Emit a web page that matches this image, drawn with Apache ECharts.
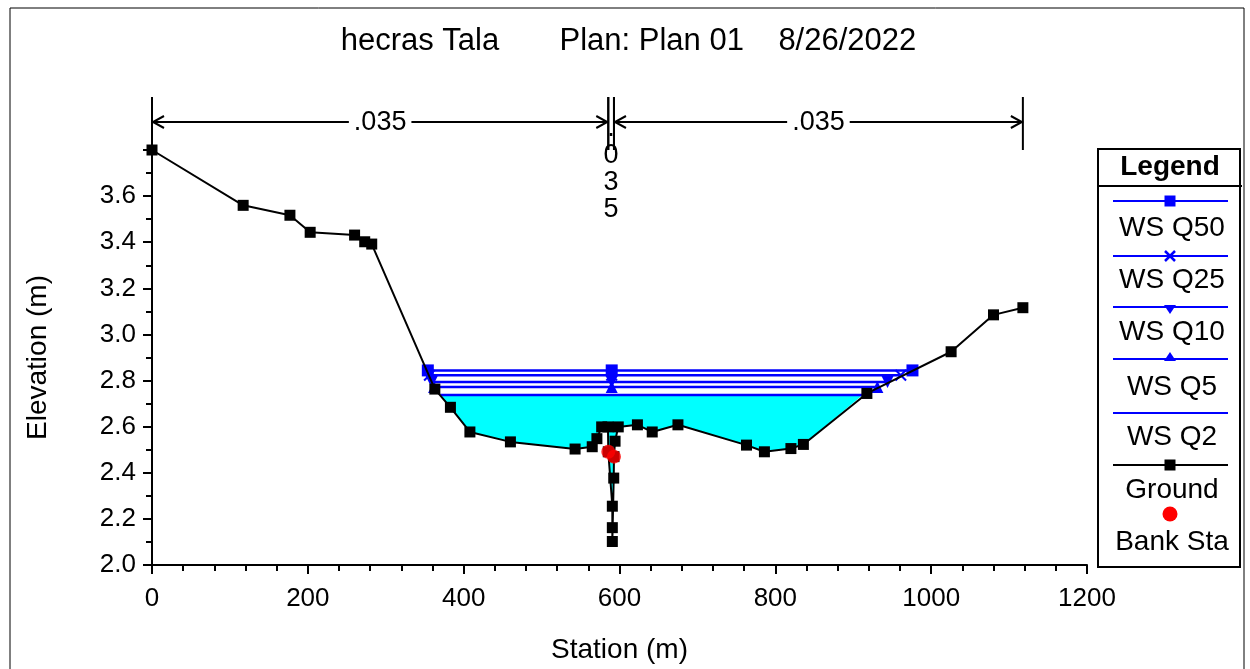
<!DOCTYPE html>
<html><head><meta charset="utf-8">
<script src="https://cdn.jsdelivr.net/npm/echarts@6/dist/echarts.min.js"></script>
<style>html,body{margin:0;padding:0;background:#fff}#c{width:1250px;height:669px}</style>
</head><body><div id="c"></div>
<script>
// ---------------- data ----------------
const titleText = 'hecras Tala       Plan: Plan 01    8/26/2022';
const xName = 'Station (m)';
const yName = 'Elevation (m)';
const xMin = 0, xMax = 1200, xStep = 200;
const yMin = 2.0, yMax = 3.8, yStep = 0.2;

const groundSta  = [0, 117, 177, 203, 260, 273, 282, 363, 383, 408, 460, 543, 565, 571, 577.1, 585.2, 585.6, 590.8, 590.8, 590.8, 592.6, 592.9, 594.3, 598.4, 623, 642, 675, 763, 786, 820, 836, 917.5, 1025.6, 1080, 1117.7];
const groundElev = [3.80, 3.56, 3.517, 3.443, 3.431, 3.402, 3.392, 2.763, 2.684, 2.577, 2.534, 2.503, 2.513, 2.548, 2.599, 2.599, 2.491, 2.255, 2.162, 2.102, 2.377, 2.470, 2.537, 2.599, 2.608, 2.577, 2.608, 2.520, 2.491, 2.505, 2.523, 2.744, 2.925, 3.085, 3.116];

const bankSta  = [585.6, 592.9];
const bankElev = [2.491, 2.470];

const wsNames  = ['WS Q50', 'WS Q25', 'WS Q10', 'WS Q5', 'WS Q2'];
const wsElev   = [2.844, 2.823, 2.794, 2.772, 2.737];
const wsLeft   = [354, 356, 359, 362, 370];
const wsCenter = [590, 590, 590, 590, 590];
const wsRight  = [976, 961, 944, 931, 912];

const nStations = [0, 585.6, 592.9, 1117.7];
const nValues   = ['.035', '.035', '.035'];

// ---------------- styles ----------------
const FONT = '"Liberation Sans", Arial, sans-serif';
const BLUE = '#0000FF';
const SYM_X = 'path://M0,1.2L1.2,0L5,3.8L8.8,0L10,1.2L6.2,5L10,8.8L8.8,10L5,6.2L1.2,10L0,8.8L3.8,5Z';
const SYM_TDOWN = 'path://M0,0L10,0L5,9Z';
const wsSymbols = ['rect', SYM_X, SYM_TDOWN, 'triangle', 'none'];

const chart = echarts.init(document.getElementById('c'), null, {renderer: 'canvas'});

const wsSeries = wsNames.map((n, i) => ({
  name: n, type: 'line', z: 3,
  data: [[wsLeft[i], wsElev[i]], [wsCenter[i], wsElev[i]], [wsRight[i], wsElev[i]]],
  symbol: wsSymbols[i], symbolSize: 12, showSymbol: wsSymbols[i] !== 'none',
  itemStyle: {color: BLUE},
  lineStyle: {color: BLUE, width: 2.5},
  emphasis: {disabled: true}, silent: true
}));

const q2 = wsNames.length - 1;
const fillSeries = {
  type: 'custom', z: 1, clip: false, silent: true,
  data: [[wsLeft[q2], wsElev[q2]]],
  renderItem: function (params, api) {
    const pts = [api.coord([wsLeft[q2], wsElev[q2]])];
    for (let k = 0; k < groundSta.length; k++) {
      if (groundSta[k] > wsLeft[q2] && groundSta[k] < wsRight[q2]) pts.push(api.coord([groundSta[k], groundElev[k]]));
    }
    pts.push(api.coord([wsRight[q2], wsElev[q2]]));
    return {type: 'polygon', shape: {points: pts}, style: {fill: '#00FFFF', stroke: null}};
  }
};

const nSeries = {
  type: 'custom', z: 6, clip: false, silent: true,
  data: nValues.map((v, i) => [nStations[i], nStations[i + 1]]),
  renderItem: function (params, api) {
    const i = params.dataIndex;
    const s0 = nStations[i], s1 = nStations[i + 1];
    const base = api.coord([s0, yMax])[1];
    const top = base - 53, ay = base - 28;
    const x0 = api.coord([s0, yMax])[0], x1 = api.coord([s1, yMax])[0];
    const st = {stroke: '#000', lineWidth: 2, fill: null};
    const ch = [
      {type: 'line', shape: {x1: x0, y1: top, x2: x0, y2: base}, style: st},
      {type: 'line', shape: {x1: x1, y1: top, x2: x1, y2: base}, style: st}
    ];
    if (x1 - x0 > 40) {
      ch.push({type: 'line', shape: {x1: x0, y1: ay, x2: x1, y2: ay}, style: st});
      ch.push({type: 'polyline', shape: {points: [[x0 + 12, ay - 6], [x0 + 1, ay], [x0 + 12, ay + 6]]}, style: st});
      ch.push({type: 'polyline', shape: {points: [[x1 - 12, ay - 6], [x1 - 1, ay], [x1 - 12, ay + 6]]}, style: st});
      ch.push({type: 'text', x: (x0 + x1) / 2, y: ay + 1, style: {text: nValues[i], fill: '#000', font: '27px ' + FONT, align: 'center', verticalAlign: 'middle', backgroundColor: '#fff', padding: [0, 5]}});
    } else {
      ch.push({type: 'text', x: (x0 + x1) / 2, y: ay - 7, style: {text: nValues[i].split('').join('\n'), fill: '#000', font: '27px ' + FONT, align: 'center', verticalAlign: 'top', lineHeight: 27}});
    }
    return {type: 'group', children: ch};
  }
};

// legend drawing (graphic)
const LX0 = 1113, LX1 = 1228, LXC = 1170;
const legendItems = [
  {ly: 201, ty: 228, text: wsNames[0], color: BLUE, mk: 'sq'},
  {ly: 256, ty: 280, text: wsNames[1], color: BLUE, mk: 'x'},
  {ly: 307, ty: 332, text: wsNames[2], color: BLUE, mk: 'td'},
  {ly: 359, ty: 387, text: wsNames[3], color: BLUE, mk: 'tu'},
  {ly: 413, ty: 437, text: wsNames[4], color: BLUE, mk: 'none'},
  {ly: 465, ty: 490, text: 'Ground', color: '#000', mk: 'sq'},
  {ly: 514, ty: 542, text: 'Bank Sta', color: 'red', mk: 'dot'}
];
const graphics = [
  {type: 'rect', shape: {x: 10, y: 8, width: 1234, height: 700}, style: {fill: null, stroke: '#000', lineWidth: 1}, silent: true},
  {type: 'text', x: 628.5, y: 41, style: {text: titleText, font: '31px ' + FONT, fill: '#000', align: 'center', verticalAlign: 'middle'}},
  {type: 'rect', shape: {x: 1098, y: 149, width: 142, height: 418}, style: {fill: '#fff', stroke: '#000', lineWidth: 2}},
  {type: 'line', shape: {x1: 1098, y1: 186, x2: 1242, y2: 186}, style: {stroke: '#000', lineWidth: 2}},
  {type: 'text', x: 1170, y: 167, style: {text: 'Legend', font: 'bold 28px ' + FONT, fill: '#000', align: 'center', verticalAlign: 'middle'}}
];
legendItems.forEach(it => {
  if (it.mk !== 'dot') graphics.push({type: 'line', shape: {x1: LX0, y1: it.ly, x2: LX1, y2: it.ly}, style: {stroke: it.color, lineWidth: 2}});
  const c = it.color;
  if (it.mk === 'sq') graphics.push({type: 'rect', shape: {x: LXC - 5.5, y: it.ly - 5.5, width: 11, height: 11}, style: {fill: c}});
  if (it.mk === 'x') {
    graphics.push({type: 'line', shape: {x1: LXC - 5, y1: it.ly - 5, x2: LXC + 5, y2: it.ly + 5}, style: {stroke: c, lineWidth: 2.5}});
    graphics.push({type: 'line', shape: {x1: LXC + 5, y1: it.ly - 5, x2: LXC - 5, y2: it.ly + 5}, style: {stroke: c, lineWidth: 2.5}});
  }
  if (it.mk === 'td') graphics.push({type: 'polygon', shape: {points: [[LXC - 6, it.ly - 2], [LXC + 6, it.ly - 2], [LXC, it.ly + 7]]}, style: {fill: c}});
  if (it.mk === 'tu') graphics.push({type: 'polygon', shape: {points: [[LXC - 6, it.ly + 2], [LXC + 6, it.ly + 2], [LXC, it.ly - 7]]}, style: {fill: c}});
  if (it.mk === 'dot') graphics.push({type: 'circle', shape: {cx: LXC, cy: it.ly, r: 7.5}, style: {fill: c}});
  graphics.push({type: 'text', x: LXC + 2, y: it.ty, style: {text: it.text, font: '28px ' + FONT, fill: '#000', align: 'center', verticalAlign: 'middle'}});
});

const option = {
  animation: false,
  backgroundColor: '#fff',
  grid: {left: 152, right: 163, top: 150, bottom: 97, containLabel: false},
  xAxis: {
    type: 'value', min: xMin, max: xMax, interval: xStep,
    name: xName, nameLocation: 'middle', nameGap: 71,
    nameTextStyle: {fontSize: 28, fontFamily: FONT, color: '#000'},
    axisLine: {show: true, onZero: false, lineStyle: {color: '#000', width: 2}},
    axisTick: {show: true, length: 9, lineStyle: {color: '#000', width: 2}},
    minorTick: {show: true, splitNumber: 5, length: 6, lineStyle: {color: '#000', width: 2}},
    axisLabel: {fontSize: 26, fontFamily: FONT, color: '#000', margin: 21, formatter: v => String(v)},
    splitLine: {show: false}
  },
  yAxis: {
    type: 'value', min: yMin, max: yMax, interval: yStep,
    name: yName, nameLocation: 'middle', nameGap: 100,
    nameTextStyle: {fontSize: 28, fontFamily: FONT, color: '#000'},
    axisLine: {show: true, onZero: false, lineStyle: {color: '#000', width: 2}},
    axisTick: {show: true, length: 9, lineStyle: {color: '#000', width: 2}},
    minorTick: {show: true, splitNumber: 2, length: 6, lineStyle: {color: '#000', width: 2}},
    axisLabel: {fontSize: 26, fontFamily: FONT, color: '#000', margin: 16,
      formatter: v => (v > 3.65 ? '' : v.toFixed(1))},
    splitLine: {show: false}
  },
  series: [fillSeries].concat(wsSeries.slice().reverse(), [
    {name: 'Ground', type: 'line', z: 4, data: groundSta.map((s, k) => [s, groundElev[k]]),
     symbol: 'rect', symbolSize: 11, showAllSymbol: true,
     itemStyle: {color: '#000'}, lineStyle: {color: '#000', width: 2}, silent: true},
    {name: 'Bank Sta', type: 'scatter', z: 5, data: bankSta.map((s, k) => [s, bankElev[k]]),
     symbol: 'circle', symbolSize: 14, itemStyle: {color: 'red'}, silent: true},
    nSeries
  ]),
  graphic: graphics
};
chart.setOption(option);
</script></body></html>
